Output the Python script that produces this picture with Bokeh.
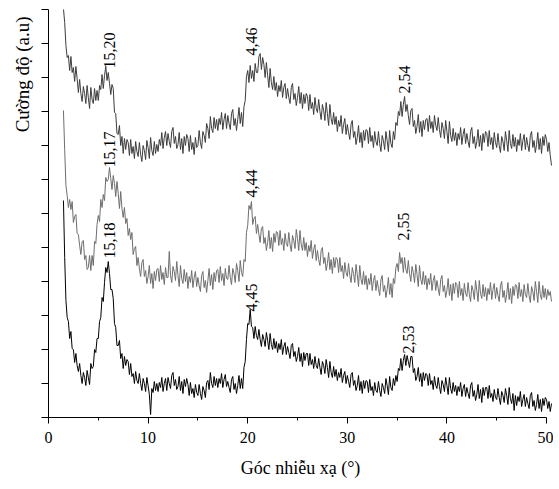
import numpy as np
from bokeh.plotting import figure
from bokeh.models import Range1d, FixedTicker, Title, CustomJSTickFormatter
from bokeh.core.properties import value
from bokeh.embed import file_html
from bokeh.resources import INLINE

# 2-theta scan starts at 1.5 deg, step 0.125 deg
two_theta_start = 1.5
two_theta_step = 0.125

# intensities (a.u.), one row per degree (row "1.5" holds 1.5-1.875)
top_trace = [
    409, 395, 372, 360,
    362, 347, 361, 345, 350, 336, 351, 339,
    325, 338, 324, 316, 331, 324, 314, 332,
    320, 309, 330, 318, 314, 329, 317, 327,
    317, 332, 328, 343, 329, 342, 351, 337,
    345, 334, 323, 333, 329, 305, 304, 284,
    283, 292, 272, 281, 264, 279, 268, 278,
    275, 262, 278, 264, 271, 259, 276, 266,
    261, 275, 263, 256, 272, 267, 258, 277,
    270, 259, 280, 267, 262, 276, 264, 273,
    266, 278, 272, 285, 269, 280, 286, 272,
    284, 276, 270, 286, 290, 274, 281, 269,
    273, 285, 268, 279, 264, 281, 272, 283,
    279, 266, 282, 268, 275, 263, 280, 270,
    272, 287, 275, 269, 286, 282, 275, 294,
    289, 279, 301, 289, 285, 300, 289, 298,
    287, 299, 293, 305, 288, 298, 304, 289,
    302, 294, 288, 304, 308, 292, 299, 287,
    298, 310, 294, 305, 291, 311, 317, 341,
    347, 335, 352, 339, 347, 336, 354, 345,
    345, 361, 364, 348, 360, 353, 340, 355,
    342, 330, 349, 335, 328, 341, 327, 335,
    321, 332, 326, 337, 320, 330, 334, 319,
    329, 320, 314, 330, 334, 318, 324, 312,
    320, 331, 314, 325, 309, 323, 314, 324,
    321, 307, 323, 309, 315, 303, 320, 309,
    305, 318, 306, 298, 313, 307, 297, 315,
    304, 292, 313, 299, 293, 305, 293, 301,
    286, 297, 291, 302, 284, 293, 299, 283,
    293, 285, 278, 293, 297, 280, 286, 273,
    280, 292, 275, 285, 270, 287, 277, 288,
    287, 274, 290, 276, 282, 270, 286, 276,
    272, 286, 274, 266, 282, 277, 268, 286,
    277, 266, 287, 274, 270, 286, 278, 295,
    292, 306, 302, 316, 301, 313, 321, 306,
    313, 302, 293, 307, 309, 291, 297, 284,
    291, 303, 285, 296, 281, 297, 288, 298,
    299, 286, 302, 289, 296, 285, 302, 292,
    287, 300, 288, 280, 295, 289, 279, 297,
    286, 274, 296, 282, 276, 289, 277, 285,
    272, 284, 278, 290, 273, 283, 289, 274,
    284, 276, 270, 286, 290, 274, 281, 269,
    276, 288, 271, 282, 267, 284, 275, 286,
    284, 271, 287, 273, 280, 268, 285, 275,
    270, 284, 272, 265, 281, 276, 267, 286,
    277, 266, 287, 274, 269, 283, 271, 280,
    266, 278, 272, 284, 267, 277, 283, 268,
    280, 272, 266, 282, 286, 270, 277, 265,
    273, 285, 268, 279, 264, 281, 272, 283,
    278, 266, 275, 262, 252,
]

middle_trace = [
    307, 268, 232, 222,
    210, 218, 208, 216, 195, 201, 203, 184,
    183, 172, 163, 176, 177, 158, 162, 148,
    150, 162, 147, 162, 152, 176, 174, 193,
    202, 196, 218, 210, 223, 217, 240, 236,
    238, 250, 239, 228, 242, 234, 221, 236,
    224, 209, 226, 209, 200, 210, 194, 199,
    182, 189, 178, 185, 163, 169, 171, 152,
    160, 149, 141, 155, 158, 141, 147, 134,
    141, 152, 134, 144, 129, 146, 137, 148,
    149, 136, 152, 138, 145, 133, 150, 140,
    140, 166, 142, 135, 151, 146, 137, 156,
    142, 131, 152, 139, 134, 148, 136, 145,
    129, 141, 135, 147, 130, 140, 146, 131,
    140, 132, 126, 142, 146, 130, 137, 125,
    137, 149, 132, 143, 128, 145, 136, 147,
    148, 135, 151, 137, 144, 132, 149, 139,
    138, 152, 140, 133, 149, 144, 135, 154,
    147, 136, 157, 145, 141, 158, 156, 185,
    192, 212, 208, 216, 193, 199, 201, 184,
    193, 183, 175, 189, 191, 174, 180, 167,
    175, 187, 169, 180, 166, 184, 175, 186,
    185, 172, 187, 173, 179, 167, 184, 174,
    171, 185, 173, 166, 182, 177, 169, 188,
    179, 167, 187, 173, 167, 180, 167, 175,
    161, 172, 166, 177, 159, 168, 173, 157,
    167, 158, 152, 167, 170, 154, 160, 147,
    154, 165, 148, 158, 144, 160, 150, 160,
    158, 145, 160, 146, 152, 139, 155, 145,
    141, 154, 142, 135, 150, 144, 135, 153,
    143, 131, 152, 138, 133, 146, 133, 142,
    128, 139, 133, 144, 127, 137, 142, 127,
    137, 129, 122, 138, 142, 126, 132, 120,
    128, 140, 123, 134, 120, 139, 134, 150,
    154, 146, 165, 154, 160, 145, 160, 148,
    144, 157, 144, 136, 151, 145, 135, 153,
    143, 131, 152, 138, 133, 146, 133, 142,
    128, 139, 133, 144, 127, 137, 142, 127,
    137, 129, 122, 138, 142, 126, 132, 120,
    127, 139, 122, 133, 117, 134, 124, 135,
    133, 120, 136, 122, 129, 117, 134, 124,
    121, 135, 123, 116, 132, 127, 118, 137,
    127, 116, 137, 124, 119, 133, 121, 130,
    117, 129, 123, 135, 118, 128, 134, 119,
    130, 122, 116, 132, 136, 120, 127, 115,
    123, 135, 118, 129, 114, 131, 122, 133,
    132, 119, 135, 121, 128, 116, 133, 123,
    120, 134, 122, 115, 131, 126, 117, 136,
    126, 115, 136, 123, 118, 132, 120, 129,
    118, 128, 122, 126, 116,
]

bottom_trace = [
    217, 160, 117, 100,
    96, 79, 86, 69, 68, 55, 64, 52,
    46, 54, 42, 34, 45, 40, 32, 47,
    40, 33, 54, 49, 51, 68, 65, 79,
    79, 96, 100, 120, 116, 135, 150, 145,
    156, 144, 128, 128, 119, 94, 90, 72,
    72, 77, 59, 64, 49, 61, 52, 58,
    56, 43, 54, 41, 44, 34, 46, 37,
    34, 44, 34, 27, 39, 34, 26, 40,
    32, 23, 3, 29, 25, 36, 27, 34,
    26, 35, 30, 40, 26, 34, 39, 27,
    40, 34, 29, 42, 45, 32, 38, 28,
    31, 41, 27, 36, 24, 38, 31, 39,
    33, 22, 35, 24, 29, 20, 33, 25,
    22, 33, 24, 18, 31, 27, 20, 35,
    37, 28, 45, 34, 30, 41, 32, 39,
    30, 39, 34, 44, 30, 38, 43, 31,
    36, 30, 25, 38, 41, 28, 34, 24,
    32, 42, 29, 39, 29, 50, 56, 78,
    94, 93, 108, 91, 90, 79, 91, 82,
    78, 88, 78, 71, 83, 78, 71, 85,
    77, 68, 84, 73, 68, 79, 69, 76,
    65, 74, 68, 78, 63, 71, 75, 63,
    71, 65, 59, 72, 74, 61, 66, 56,
    61, 70, 56, 64, 51, 65, 57, 64,
    64, 52, 64, 53, 58, 49, 61, 52,
    49, 59, 50, 43, 56, 52, 44, 58,
    50, 40, 56, 45, 40, 51, 41, 48,
    37, 45, 40, 49, 35, 42, 46, 34,
    42, 36, 30, 43, 45, 32, 37, 27,
    32, 42, 27, 36, 24, 37, 29, 37,
    36, 25, 38, 27, 31, 22, 35, 27,
    25, 36, 27, 21, 34, 30, 24, 39,
    32, 23, 41, 30, 27, 39, 32, 42,
    36, 49, 47, 59, 47, 57, 63, 52,
    62, 56, 50, 61, 61, 45, 49, 37,
    41, 50, 36, 44, 31, 45, 37, 44,
    43, 32, 44, 33, 37, 28, 41, 32,
    29, 40, 31, 24, 37, 33, 26, 40,
    32, 23, 40, 29, 24, 35, 26, 32,
    22, 31, 26, 35, 21, 29, 33, 21,
    30, 24, 19, 32, 35, 21, 27, 17,
    23, 33, 19, 28, 15, 30, 22, 30,
    30, 19, 32, 20, 24, 16, 28, 20,
    18, 29, 20, 13, 26, 22, 15, 29,
    22, 13, 30, 19, 14, 24, 7, 22,
    12, 21, 16, 26, 11, 18, 23, 11,
    20, 14, 9, 22, 25, 11, 17, 7,
    13, 23, 9, 18, 6, 19, 12, 20,
    18, 9, 16, 6, 14,
]

# peak annotations (d-spacing labels)
peak_labels = ["15,20", "15,17", "15,18", "4,46", "4,44", "4,45", "2,54", "2,55", "2,53"]
peak_label_x = [6.1, 6.1, 6.1, 20.4, 20.4, 20.4, 35.7, 35.6, 36.1]
peak_label_y = [349, 250, 159, 362, 220, 106, 324, 177, 64]

x_ticks = [0, 10, 20, 30, 40, 50]
x_minor_ticks = [5, 15, 25, 35, 45]
y_ticks = [0, 34, 68, 102, 136, 170, 204, 238, 272, 306, 340, 374, 408]

FONT = "Liberation Serif"

p = figure(
    width=553, height=485,
    x_range=Range1d(0, 50.6), y_range=Range1d(0, 408),
    output_backend="svg", toolbar_location=None,
    min_border_left=46, min_border_right=1, min_border_top=9, min_border_bottom=68,
)
p.background_fill_color = "white"
p.border_fill_color = "white"
p.outline_line_color = None
p.grid.visible = False


def xs_for(series):
    return two_theta_start + two_theta_step * np.arange(len(series))


p.line(xs_for(top_trace), top_trace, line_color="#3d3d3d", line_width=1)
p.line(xs_for(middle_trace), middle_trace, line_color="#6e6e6e", line_width=1)
p.line(xs_for(bottom_trace), bottom_trace, line_color="#000000", line_width=1)

p.text(
    x=peak_label_x, y=peak_label_y, text=peak_labels,
    angle=np.pi / 2, text_align="left", text_baseline="middle",
    text_font=value(FONT), text_font_size="16px", text_color="black",
)

xa = p.xaxis[0]
xa.ticker = FixedTicker(ticks=x_ticks, minor_ticks=x_minor_ticks)
xa.bounds = (0, 50)
xa.major_tick_in = 0
xa.major_tick_out = 6
xa.minor_tick_in = 0
xa.minor_tick_out = 3
xa.axis_line_color = "black"
xa.major_tick_line_color = "black"
xa.minor_tick_line_color = "black"
xa.major_label_text_font = FONT
xa.major_label_text_font_size = "16px"
xa.major_label_text_color = "black"
xa.major_label_standoff = 8
xa.axis_label = "Góc nhiễu xạ (°)"
xa.axis_label_text_font = FONT
xa.axis_label_text_font_size = "18px"
xa.axis_label_text_font_style = "normal"
xa.axis_label_text_color = "black"
xa.axis_label_standoff = 12

ya = p.yaxis[0]
ya.ticker = FixedTicker(ticks=y_ticks, minor_ticks=[])
ya.formatter = CustomJSTickFormatter(code="return ''")
ya.major_tick_in = 0
ya.major_tick_out = 7
ya.major_label_standoff = 0
ya.axis_line_color = "black"
ya.major_tick_line_color = "black"

p.add_layout(Title(
    text="Cường độ (a.u)", align="right", offset=7,
    text_font=FONT, text_font_size="19px", text_font_style="normal",
    text_color="black", standoff=18,
), "left")

open("out.html", "w").write(file_html(p, INLINE))
